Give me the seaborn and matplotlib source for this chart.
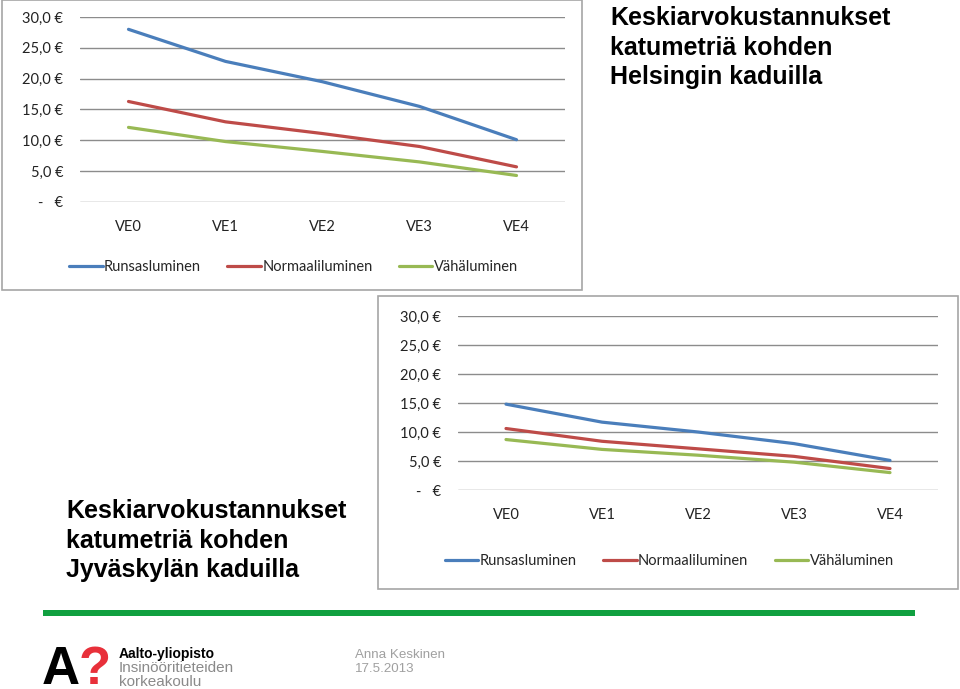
import numpy as np
import pandas as pd
import matplotlib.pyplot as plt
import seaborn as sns
from matplotlib.patches import Rectangle

# Data
categories = ['VE0', 'VE1', 'VE2', 'VE3', 'VE4']
series_names = ['Runsasluminen', 'Normaaliluminen', 'Vähäluminen']

helsinki_runsas = [28.0, 22.8, 19.5, 15.5, 10.1]
helsinki_normaali = [16.3, 13.0, 11.1, 9.0, 5.7]
helsinki_vahä = [12.1, 9.8, 8.2, 6.5, 4.3]

jkl_runsas = [14.8, 11.7, 10.0, 8.0, 5.1]
jkl_normaali = [10.6, 8.4, 7.1, 5.8, 3.7]
jkl_vahä = [8.7, 7.0, 6.0, 4.8, 3.0]

ytick_values = [0, 5, 10, 15, 20, 25, 30]

colors = ['#4a7ebb', '#be4b48', '#98b954']

W, H = 960, 689

sns.set_style("white")
plt.rcParams['font.family'] = ['Liberation Sans', 'DejaVu Sans']

fig = plt.figure(figsize=(W / 100, H / 100), dpi=100)


def px_rect(x0, y0, x1, y1):
    # convert pixel box (top-left origin) to figure fraction
    return [x0 / W, 1 - y1 / H, (x1 - x0) / W, (y1 - y0) / H]


def long_df(a, b, c):
    rows = []
    for name, vals in zip(series_names, [a, b, c]):
        for cat, v in zip(categories, vals):
            rows.append({'cat': cat, 'value': v, 'series': name})
    return pd.DataFrame(rows)


def euro(v):
    if v == 0:
        return '-   €'
    return f'{v:.1f}'.replace('.', ',') + ' €'


def draw_chart(box, plot, data, legend_y):
    # gray border of the pasted chart image
    fig.patches.append(Rectangle((box[0] / W, 1 - box[3] / H),
                                 (box[2] - box[0]) / W, (box[3] - box[1]) / H,
                                 transform=fig.transFigure, fill=True,
                                 facecolor='white', edgecolor='#a6a6a6', lw=1.2, zorder=-1))
    ax = fig.add_axes(px_rect(*plot))
    sns.lineplot(data=data, x='cat', y='value', hue='series', palette=colors,
                 linewidth=2.3, ax=ax, sort=False)
    ax.set_xlim(-0.5, 4.5)
    ax.set_ylim(0, 30)
    ax.set_yticks(ytick_values)
    ax.set_yticklabels([euro(v) for v in ytick_values], fontfamily='Lato', fontsize=10.5, color='#222222')
    ax.set_xticks(range(len(categories)))
    ax.set_xticklabels(categories, fontfamily='Lato', fontsize=10.5, color='#222222')
    ax.tick_params(axis='x', length=0, pad=13)
    ax.tick_params(axis='y', length=0, pad=12)
    ax.grid(axis='y', color='#8c8c8c', linewidth=1.0)
    ax.set_axisbelow(True)
    for s in ax.spines.values():
        s.set_visible(False)
    ax.set_xlabel('')
    ax.set_ylabel('')
    handles, labels = ax.get_legend_handles_labels()
    ax.legend(handles, labels, loc='center', ncol=3, frameon=False,
              bbox_to_anchor=(0.44, legend_y), handlelength=2.3, handletextpad=0.1,
              columnspacing=1.8, prop={'family': 'Lato', 'size': 10.5})
    return ax


draw_chart((2, 0, 582, 290), (80, 17, 565, 202),
           long_df(helsinki_runsas, helsinki_normaali, helsinki_vahä), -0.35)
draw_chart((378, 296, 958, 589), (458, 316, 938, 490),
           long_df(jkl_runsas, jkl_normaali, jkl_vahä), -0.41)

title_kw = dict(fontsize=18, fontweight='bold', color='black', va='top', ha='left', linespacing=1.29)
fig.text(610 / W, 1 - 6 / H, 'Keskiarvokustannukset\nkatumetriä kohden\nHelsingin kaduilla', **title_kw)
fig.text(66 / W, 1 - 499 / H, 'Keskiarvokustannukset\nkatumetriä kohden\nJyväskylän kaduilla', **title_kw)

# green divider bar
fig.patches.append(Rectangle((43 / W, 1 - 616 / H), (915 - 43) / W, 6 / H,
                             transform=fig.transFigure, facecolor='#10a040', edgecolor='none'))

# logo and footer
fig.text(42 / W, 1 - 684 / H, 'A', fontsize=38, fontweight='bold', color='black', va='baseline')
fig.text(79 / W, 1 - 684 / H, '?', fontsize=38, fontweight='bold', color='#e8303a', va='baseline')
fig.text(119 / W, 1 - 658 / H, 'Aalto-yliopisto', fontsize=10, fontweight='bold', color='black')
fig.text(119 / W, 1 - 672 / H, 'Insinööritieteiden', fontsize=11, color='#8a8a8a')
fig.text(119 / W, 1 - 686 / H, 'korkeakoulu', fontsize=11, color='#8a8a8a')
fig.text(355 / W, 1 - 658 / H, 'Anna Keskinen', fontsize=9.6, color='#a0a0a0')
fig.text(355 / W, 1 - 672 / H, '17.5.2013', fontsize=9.6, color='#a0a0a0')

fig.savefig('out.png', dpi=100)
